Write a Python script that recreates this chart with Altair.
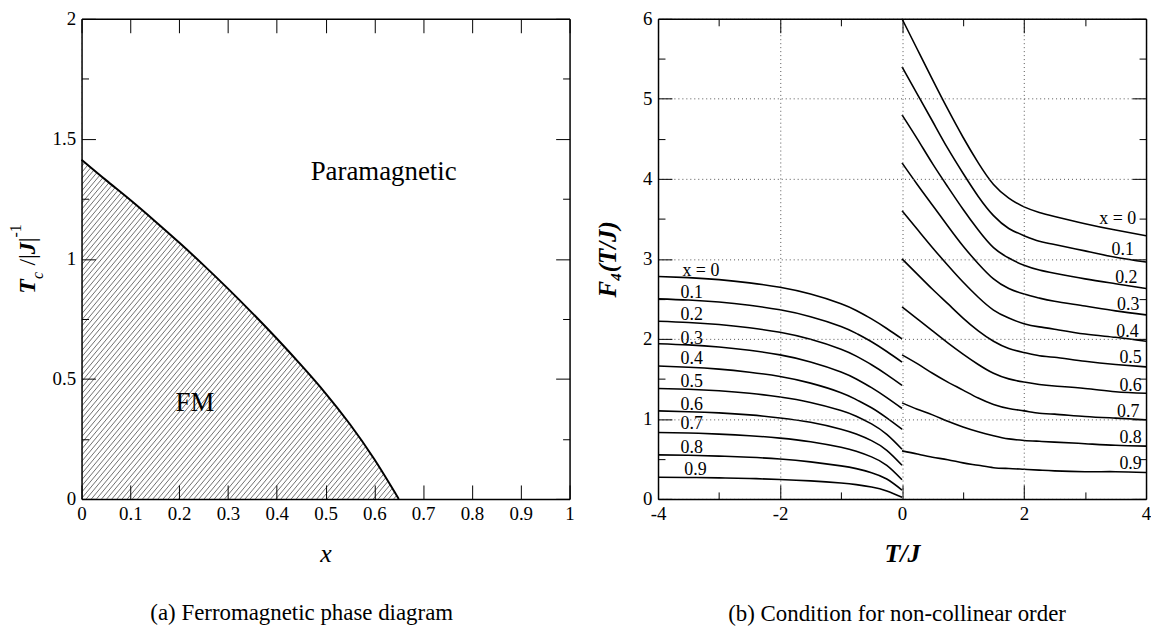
import altair as alt
import numpy as np
import pandas as pd

FONT = "Liberation Serif"

# ---------------- panel (a): ferromagnetic phase boundary ----------------
TC_X = [0.00, 0.05, 0.10, 0.15, 0.20, 0.25, 0.30, 0.35, 0.40, 0.45, 0.50, 0.55, 0.60, 0.65]
TC_Y = [1.413, 1.328, 1.245, 1.158, 1.068, 0.974, 0.876, 0.774, 0.668, 0.557, 0.440, 0.311, 0.165, 0.000]
A_X_DOMAIN = [0, 1]
A_Y_DOMAIN = [0, 2]
A_X_TICKS = [0, 0.1, 0.2, 0.3, 0.4, 0.5, 0.6, 0.7, 0.8, 0.9, 1]
A_Y_TICKS = [0, 0.5, 1, 1.5, 2]
A_Y_MINOR = [0.25, 0.75, 1.25, 1.75]
A_TEXT_LABELS = ["Paramagnetic", "FM"]
A_TEXT_X = [0.619, 0.2325]
A_TEXT_Y = [1.36, 0.40]

# ---------------- panel (b): F4(T/J) ----------------
X_VALUES = [0.0, 0.1, 0.2, 0.3, 0.4, 0.5, 0.6, 0.7, 0.8, 0.9]
T_NEG = [-4, -3.5, -3, -2.5, -2, -1.5, -1, -0.75, -0.5, -0.25, 0]
F_NEG = [
    [2.780, 2.765, 2.740, 2.700, 2.645, 2.560, 2.440, 2.355, 2.250, 2.130, 2.000],
    [2.500, 2.485, 2.460, 2.420, 2.363, 2.277, 2.156, 2.069, 1.964, 1.842, 1.710],
    [2.220, 2.205, 2.179, 2.138, 2.082, 1.994, 1.871, 1.784, 1.677, 1.554, 1.420],
    [1.940, 1.925, 1.899, 1.857, 1.800, 1.712, 1.587, 1.499, 1.390, 1.265, 1.130],
    [1.660, 1.646, 1.622, 1.583, 1.530, 1.447, 1.328, 1.241, 1.139, 1.012, 0.870],
    [1.380, 1.370, 1.351, 1.320, 1.273, 1.205, 1.105, 1.034, 0.937, 0.806, 0.620],
    [1.100, 1.090, 1.075, 1.050, 1.012, 0.957, 0.871, 0.810, 0.728, 0.607, 0.420],
    [0.830, 0.823, 0.810, 0.790, 0.760, 0.715, 0.645, 0.595, 0.525, 0.420, 0.240],
    [0.550, 0.545, 0.535, 0.520, 0.498, 0.463, 0.413, 0.378, 0.328, 0.248, 0.110],
    [0.270, 0.268, 0.263, 0.255, 0.243, 0.225, 0.198, 0.178, 0.148, 0.100, 0.020],
]
T_POS = [0, 0.25, 0.5, 0.75, 1.0, 1.25, 1.5, 1.75, 2.0, 2.25, 2.5, 3.0, 3.5, 4.0]
F_POS = [
    [6.00, 5.62, 5.24, 4.87, 4.52, 4.20, 3.93, 3.76, 3.65, 3.58, 3.53, 3.44, 3.36, 3.29],
    [5.40, 5.06, 4.72, 4.38, 4.07, 3.78, 3.54, 3.38, 3.29, 3.22, 3.18, 3.10, 3.02, 2.96],
    [4.80, 4.50, 4.19, 3.90, 3.62, 3.36, 3.14, 3.01, 2.92, 2.86, 2.82, 2.75, 2.69, 2.63],
    [4.20, 3.93, 3.67, 3.41, 3.16, 2.94, 2.75, 2.63, 2.56, 2.51, 2.47, 2.41, 2.35, 2.30],
    [3.60, 3.37, 3.14, 2.92, 2.71, 2.52, 2.36, 2.26, 2.19, 2.15, 2.12, 2.06, 2.02, 1.97],
    [3.00, 2.81, 2.62, 2.44, 2.26, 2.10, 1.97, 1.88, 1.83, 1.79, 1.77, 1.72, 1.68, 1.65],
    [2.40, 2.25, 2.10, 1.95, 1.81, 1.68, 1.57, 1.50, 1.46, 1.43, 1.41, 1.38, 1.34, 1.32],
    [1.80, 1.69, 1.57, 1.46, 1.36, 1.26, 1.18, 1.13, 1.10, 1.07, 1.06, 1.03, 1.01, 0.99],
    [1.20, 1.12, 1.05, 0.97, 0.90, 0.84, 0.79, 0.75, 0.73, 0.72, 0.71, 0.69, 0.67, 0.66],
    [0.60, 0.56, 0.52, 0.49, 0.45, 0.42, 0.39, 0.38, 0.37, 0.36, 0.35, 0.34, 0.34, 0.33],
]
CURVE_LABELS = ["x = 0", "0.1", "0.2", "0.3", "0.4", "0.5", "0.6", "0.7", "0.8", "0.9"]
LEFT_LABEL_T = [-3.60, -3.63, -3.63, -3.63, -3.63, -3.63, -3.63, -3.63, -3.63, -3.57]
LEFT_LABEL_F = [2.85, 2.57, 2.295, 2.00, 1.75, 1.46, 1.17, 0.93, 0.64, 0.36]
RIGHT_LABEL_T = [3.84, 3.80, 3.86, 3.89, 3.88, 3.93, 3.93, 3.89, 3.93, 3.93]
RIGHT_LABEL_F = [3.50, 3.11, 2.76, 2.42, 2.08, 1.76, 1.41, 1.09, 0.76, 0.43]
B_X_DOMAIN = [-4, 4]
B_Y_DOMAIN = [0, 6]
B_X_TICKS = [-4, -2, 0, 2, 4]
B_X_MINOR = [-3, -1, 1, 3]
B_Y_TICKS = [0, 1, 2, 3, 4, 5, 6]
B_Y_MINOR = [0.5, 1.5, 2.5, 3.5, 4.5, 5.5]

# ---------------- layout / style ----------------
W, H = 491, 483
MAJOR, MINOR = 14, 7


def label_axis(orient, values, title=None, grid=False, title_size=26, **kw):
    return alt.Axis(orient=orient, values=values, format="~g",
                    labelExpr="replace(datum.label, '\u2212', '-')",
                    ticks=False, domain=True, domainColor="black", domainWidth=1.5,
                    labelFont=FONT, labelFontSize=19, labelColor="black", labelPadding=6,
                    labelFlush=False, labelOverlap=False,
                    title=title, titleFont=FONT, titleFontSize=title_size, titleColor="black",
                    grid=grid, gridColor="#555555", gridDash=[1, 3], gridWidth=1,
                    zindex=1, **kw)


def tick_axis(orient, values, size):
    return alt.Axis(orient=orient, values=values, labels=False, domain=False, ticks=True,
                    tickSize=size, tickColor="black", tickWidth=1, offset=-size,
                    title=None, grid=False, zindex=1)


def domain_axis(orient):
    return alt.Axis(orient=orient, labels=False, ticks=False, domain=True,
                    domainColor="black", domainWidth=1.5, title=None, grid=False, zindex=1)


# ================= panel (a) =================
xa = alt.Scale(domain=A_X_DOMAIN, nice=False, zero=False)
ya = alt.Scale(domain=A_Y_DOMAIN, nice=False, zero=False)

curve_df = pd.DataFrame({"x": TC_X, "tc": TC_Y, "top": A_Y_DOMAIN[1]})

# hatch pattern (style): parallel diagonal strokes, masked above the boundary
slope = 1.2 * W / (H / (A_Y_DOMAIN[1] - A_Y_DOMAIN[0]))
rise_run = (A_Y_DOMAIN[1] - A_Y_DOMAIN[0]) / slope
offs = np.arange(-rise_run, TC_X[-1] + 0.01, 0.0105)
hatch_df = pd.DataFrame({"x0": offs, "y0": A_Y_DOMAIN[0],
                         "x1": offs + rise_run, "y1": A_Y_DOMAIN[1]})

hatch = alt.Chart(hatch_df).mark_rule(color="#333333", strokeWidth=0.7, clip=True).encode(
    x=alt.X("x0:Q", scale=xa,
            axis=label_axis("bottom", A_X_TICKS, "x", titleFontStyle="italic",
                            titleFontWeight="normal", titlePadding=17)),
    x2="x1:Q",
    y=alt.Y("y0:Q", scale=ya, axis=label_axis("left", A_Y_TICKS, None)),
    y2="y1:Q",
)

mask = alt.Chart(curve_df).mark_area(color="white", opacity=1, interpolate="natural").encode(
    x=alt.X("x:Q", scale=xa, axis=tick_axis("bottom", A_X_TICKS, MAJOR)),
    y=alt.Y("tc:Q", scale=ya, axis=tick_axis("left", A_Y_TICKS, MAJOR)),
    y2="top:Q",
)

rect_df = pd.DataFrame({"x0": [TC_X[-1]], "x1": [A_X_DOMAIN[1]],
                        "y0": [A_Y_DOMAIN[0]], "y1": [A_Y_DOMAIN[1]]})
mask_r = alt.Chart(rect_df).mark_rect(color="white", opacity=1, stroke="white",
                                      strokeWidth=2).encode(
    x=alt.X("x0:Q", scale=xa, axis=domain_axis("top")),
    x2="x1:Q",
    y=alt.Y("y0:Q", scale=ya, axis=tick_axis("left", A_Y_MINOR, MINOR)),
    y2="y1:Q",
)

curve = alt.Chart(curve_df).mark_line(color="black", strokeWidth=2, interpolate="natural").encode(
    x=alt.X("x:Q", scale=xa, axis=tick_axis("top", A_X_TICKS, MAJOR)),
    y=alt.Y("tc:Q", scale=ya, axis=domain_axis("right")),
)

txt_df = pd.DataFrame({"label": A_TEXT_LABELS, "x": A_TEXT_X, "y": A_TEXT_Y})
para = alt.Chart(txt_df.iloc[[0]]).mark_text(font=FONT, fontSize=27, color="black").encode(
    x=alt.X("x:Q", scale=xa, axis=None),
    y=alt.Y("y:Q", scale=ya, axis=tick_axis("right", A_Y_TICKS, MAJOR)),
    text="label:N",
)
fm = alt.Chart(txt_df.iloc[[1]]).mark_text(font=FONT, fontSize=27, color="black").encode(
    x=alt.X("x:Q", scale=xa, axis=None),
    y=alt.Y("y:Q", scale=ya, axis=tick_axis("right", A_Y_MINOR, MINOR)),
    text="label:N",
)

# y-axis title  T_c /|J|^-1  (pieces, rotated)
BASE_X = -47
y0 = H / 2 + 35
pieces_spec = [
    ("T", 24, "italic", "bold", 0, 0.611),
    ("c", 16, "italic", "normal", 8, 0.85),
    ("/|", 24, "normal", "normal", 0, 0.478),
    ("J", 24, "italic", "bold", 0, 0.5),
    ("|", 24, "normal", "normal", 0, 0.2),
    ("-1", 16, "normal", "normal", -14, 0.833),
]
pieces = []
ycur = y0
for txt, size, style, weight, shift, em in pieces_spec:
    pieces.append(
        alt.Chart(alt.Data(values=[{}])).mark_text(
            text=txt, angle=270, align="left", baseline="alphabetic", font=FONT,
            fontSize=size, fontStyle=style, fontWeight=weight, color="black"
        ).encode(x=alt.value(BASE_X + shift), y=alt.value(ycur))
    )
    ycur -= em * size

left = alt.layer(hatch, mask, mask_r, curve, para, fm, *pieces).resolve_axis(
    x="independent", y="independent"
).properties(
    width=W, height=H,
    title=alt.TitleParams("(a) Ferromagnetic phase diagram", orient="bottom", anchor="middle",
                          frame="group", offset=36, dx=-24, font=FONT, fontSize=23,
                          fontWeight="normal", color="black"),
)

# ================= panel (b) =================
xb = alt.Scale(domain=B_X_DOMAIN, nice=False, zero=False)
yb = alt.Scale(domain=B_Y_DOMAIN, nice=False, zero=False)

neg_rows, pos_rows = [], []
for xv, fs in zip(X_VALUES, F_NEG):
    for t, f in zip(T_NEG, fs):
        neg_rows.append({"T": t, "F": f, "key": f"neg{xv}"})
for xv, fs in zip(X_VALUES, F_POS):
    for t, f in zip(T_POS, fs):
        pos_rows.append({"T": t, "F": f, "key": f"pos{xv}"})
neg_df = pd.DataFrame(neg_rows)
pos_df = pd.DataFrame(pos_rows)

neg = alt.Chart(neg_df).mark_line(color="black", strokeWidth=1.6, interpolate="natural").encode(
    x=alt.X("T:Q", scale=xb,
            axis=label_axis("bottom", B_X_TICKS, "T/J", grid=True, titleFontStyle="italic",
                            titleFontWeight="bold", titlePadding=17)),
    y=alt.Y("F:Q", scale=yb,
            axis=label_axis("left", B_Y_TICKS, "F\u2084(T/J)", grid=True, title_size=25,
                            titleFontStyle="italic", titleFontWeight="bold", titlePadding=22)),
    detail="key:N",
)
pos = alt.Chart(pos_df).mark_line(color="black", strokeWidth=1.6, interpolate="natural").encode(
    x=alt.X("T:Q", scale=xb, axis=tick_axis("bottom", B_X_TICKS, MAJOR)),
    y=alt.Y("F:Q", scale=yb, axis=tick_axis("left", B_Y_TICKS, MAJOR)),
    detail="key:N",
)

ll_df = pd.DataFrame({"label": CURVE_LABELS, "T": LEFT_LABEL_T, "F": LEFT_LABEL_F})
rl_df = pd.DataFrame({"label": CURVE_LABELS, "T": RIGHT_LABEL_T, "F": RIGHT_LABEL_F})

lab_kw = dict(font=FONT, fontSize=18, color="black", baseline="middle")
ll_a = alt.Chart(ll_df.iloc[:1]).mark_text(align="left", **lab_kw).encode(
    x=alt.X("T:Q", scale=xb, axis=tick_axis("bottom", B_X_MINOR, MINOR)),
    y=alt.Y("F:Q", scale=yb, axis=tick_axis("left", B_Y_MINOR, MINOR)),
    text="label:N",
)
ll_b = alt.Chart(ll_df.iloc[1:]).mark_text(align="left", **lab_kw).encode(
    x=alt.X("T:Q", scale=xb, axis=domain_axis("top")),
    y=alt.Y("F:Q", scale=yb, axis=domain_axis("right")),
    text="label:N",
)
rl_a = alt.Chart(rl_df.iloc[:1]).mark_text(align="right", **lab_kw).encode(
    x=alt.X("T:Q", scale=xb, axis=tick_axis("top", B_X_TICKS, MAJOR)),
    y=alt.Y("F:Q", scale=yb, axis=tick_axis("right", B_Y_TICKS, MAJOR)),
    text="label:N",
)
rl_b = alt.Chart(rl_df.iloc[1:]).mark_text(align="right", **lab_kw).encode(
    x=alt.X("T:Q", scale=xb, axis=tick_axis("top", B_X_MINOR, MINOR)),
    y=alt.Y("F:Q", scale=yb, axis=tick_axis("right", B_Y_MINOR, MINOR)),
    text="label:N",
)

right = alt.layer(neg, pos, ll_a, ll_b, rl_a, rl_b).resolve_axis(
    x="independent", y="independent"
).properties(
    width=W, height=H,
    title=alt.TitleParams("(b) Condition for non-collinear order", orient="bottom", anchor="middle",
                          frame="group", offset=37, dx=-5, font=FONT, fontSize=23,
                          fontWeight="normal", color="black"),
)

chart = alt.hconcat(left, right, spacing=89, bounds="flush").properties(
    padding={"left": 0, "top": 0, "right": 0, "bottom": 0}, background="white"
).configure_view(stroke=None)

chart.save("out.html", embed_options={"renderer": "svg", "actions": False})
